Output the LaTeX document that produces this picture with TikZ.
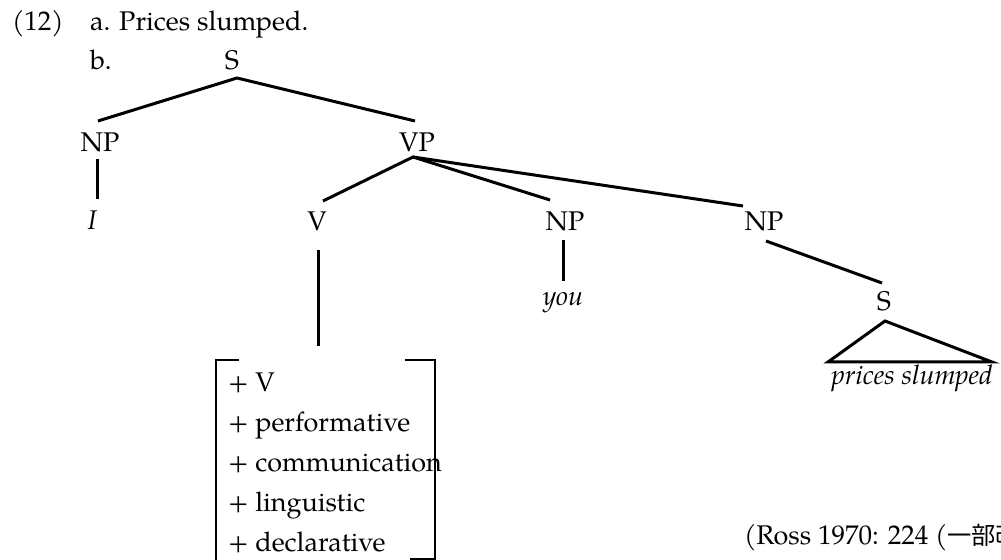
\documentclass[tikz,border=0pt]{standalone}
\usepackage{fontspec}
\setmainfont{texgyrepagella}[Extension=.otf, UprightFont=*-regular, ItalicFont=*-italic, BoldFont=*-bold, BoldItalicFont=*-bolditalic]
\newfontfamily\cjk{Noto Sans CJK JP}[Scale=0.9]
\usetikzlibrary{calc}
\begin{document}
\begin{tikzpicture}[x=0.5pt,y=-0.5pt,
  every node/.style={inner sep=0pt, outer sep=0pt, font=\fontsize{13.5}{16}\selectfont},
  lbl/.style={anchor=base},
  lblw/.style={anchor=base west},
  branch/.style={line width=1.5pt, line cap=butt},
  brk/.style={line width=1.3pt}]
\useasboundingbox (0,0) rectangle (1001,560);
% header
\node[lblw] (num) at (12,31) {(12)};
\node[lblw] (ex_a) at (90,31) {a. Prices slumped.};
\node[lblw] (ex_b) at (90,70) {b.};
% tree labels
\node[lbl] (S0) at (232,70) {S};
\node[lbl] (NP1) at (100,152) {NP};
\node[lbl] (VP) at (417,152) {VP};
\node[lbl] (I) at (92,230) {\itshape I};
\node[lbl] (V) at (317,231) {V};
\node[lbl] (NP2) at (565,231) {NP};
\node[lbl] (NP3) at (764,231) {NP};
\node[lbl] (you) at (563,306) {\itshape you};
\node[lbl] (S2) at (884,311) {S};
\node[lbl] (ps) at (912,385) {\itshape prices slumped};
% features
\node[lblw] (f1) at (228,392) {+ V};
\node[lblw] (f2) at (228,432) {+ performative};
\node[lblw] (f3) at (228,472) {+ communication};
\node[lblw] (f4) at (228,512) {+ linguistic};
\node[lblw] (f5) at (228,552) {+ declarative};
% citation
\node[lblw] (cite) at (744,545) {(Ross 1970: 224 ({\cjk 一部改変})};
% branches
\draw[branch] ($(NP1.base)+(-2,-31)$) -- ($(S0.base)+(5,8)$) -- ($(VP.base)+(-2,-31)$);
\draw[branch] ($(NP1.base)+(-3,7)$) -- ($(I.base)+(5,-31)$);
\draw[branch] ($(V.base)+(6,-30)$) -- ($(VP.base)+(-4,5)$) -- ($(NP2.base)+(-15,-31)$);
\draw[branch] ($(VP.base)+(-4,5)$) -- ($(NP3.base)+(-21,-25)$);
\draw[branch] ($(V.base)+(1,19)$) -- ($(f1.base west)+(90,-46)$);
\draw[branch] ($(NP2.base)+(-2,9)$) -- ($(you.base)+(0,-25)$);
\draw[branch] ($(NP3.base)+(2,10)$) -- ($(S2.base)+(-2,-28)$);
\draw[branch, line join=miter] ($(ps.base)+(-84,-23)$) -- ($(S2.base)+(1,10)$) -- ($(ps.base)+(80,-23)$) -- cycle;
% brackets
\draw[brk] (239,360) -- (216,360) -- (216,562);
\draw[brk] (405,360) -- (435,360) -- (435,559) -- (410,559);
\end{tikzpicture}
\end{document}
